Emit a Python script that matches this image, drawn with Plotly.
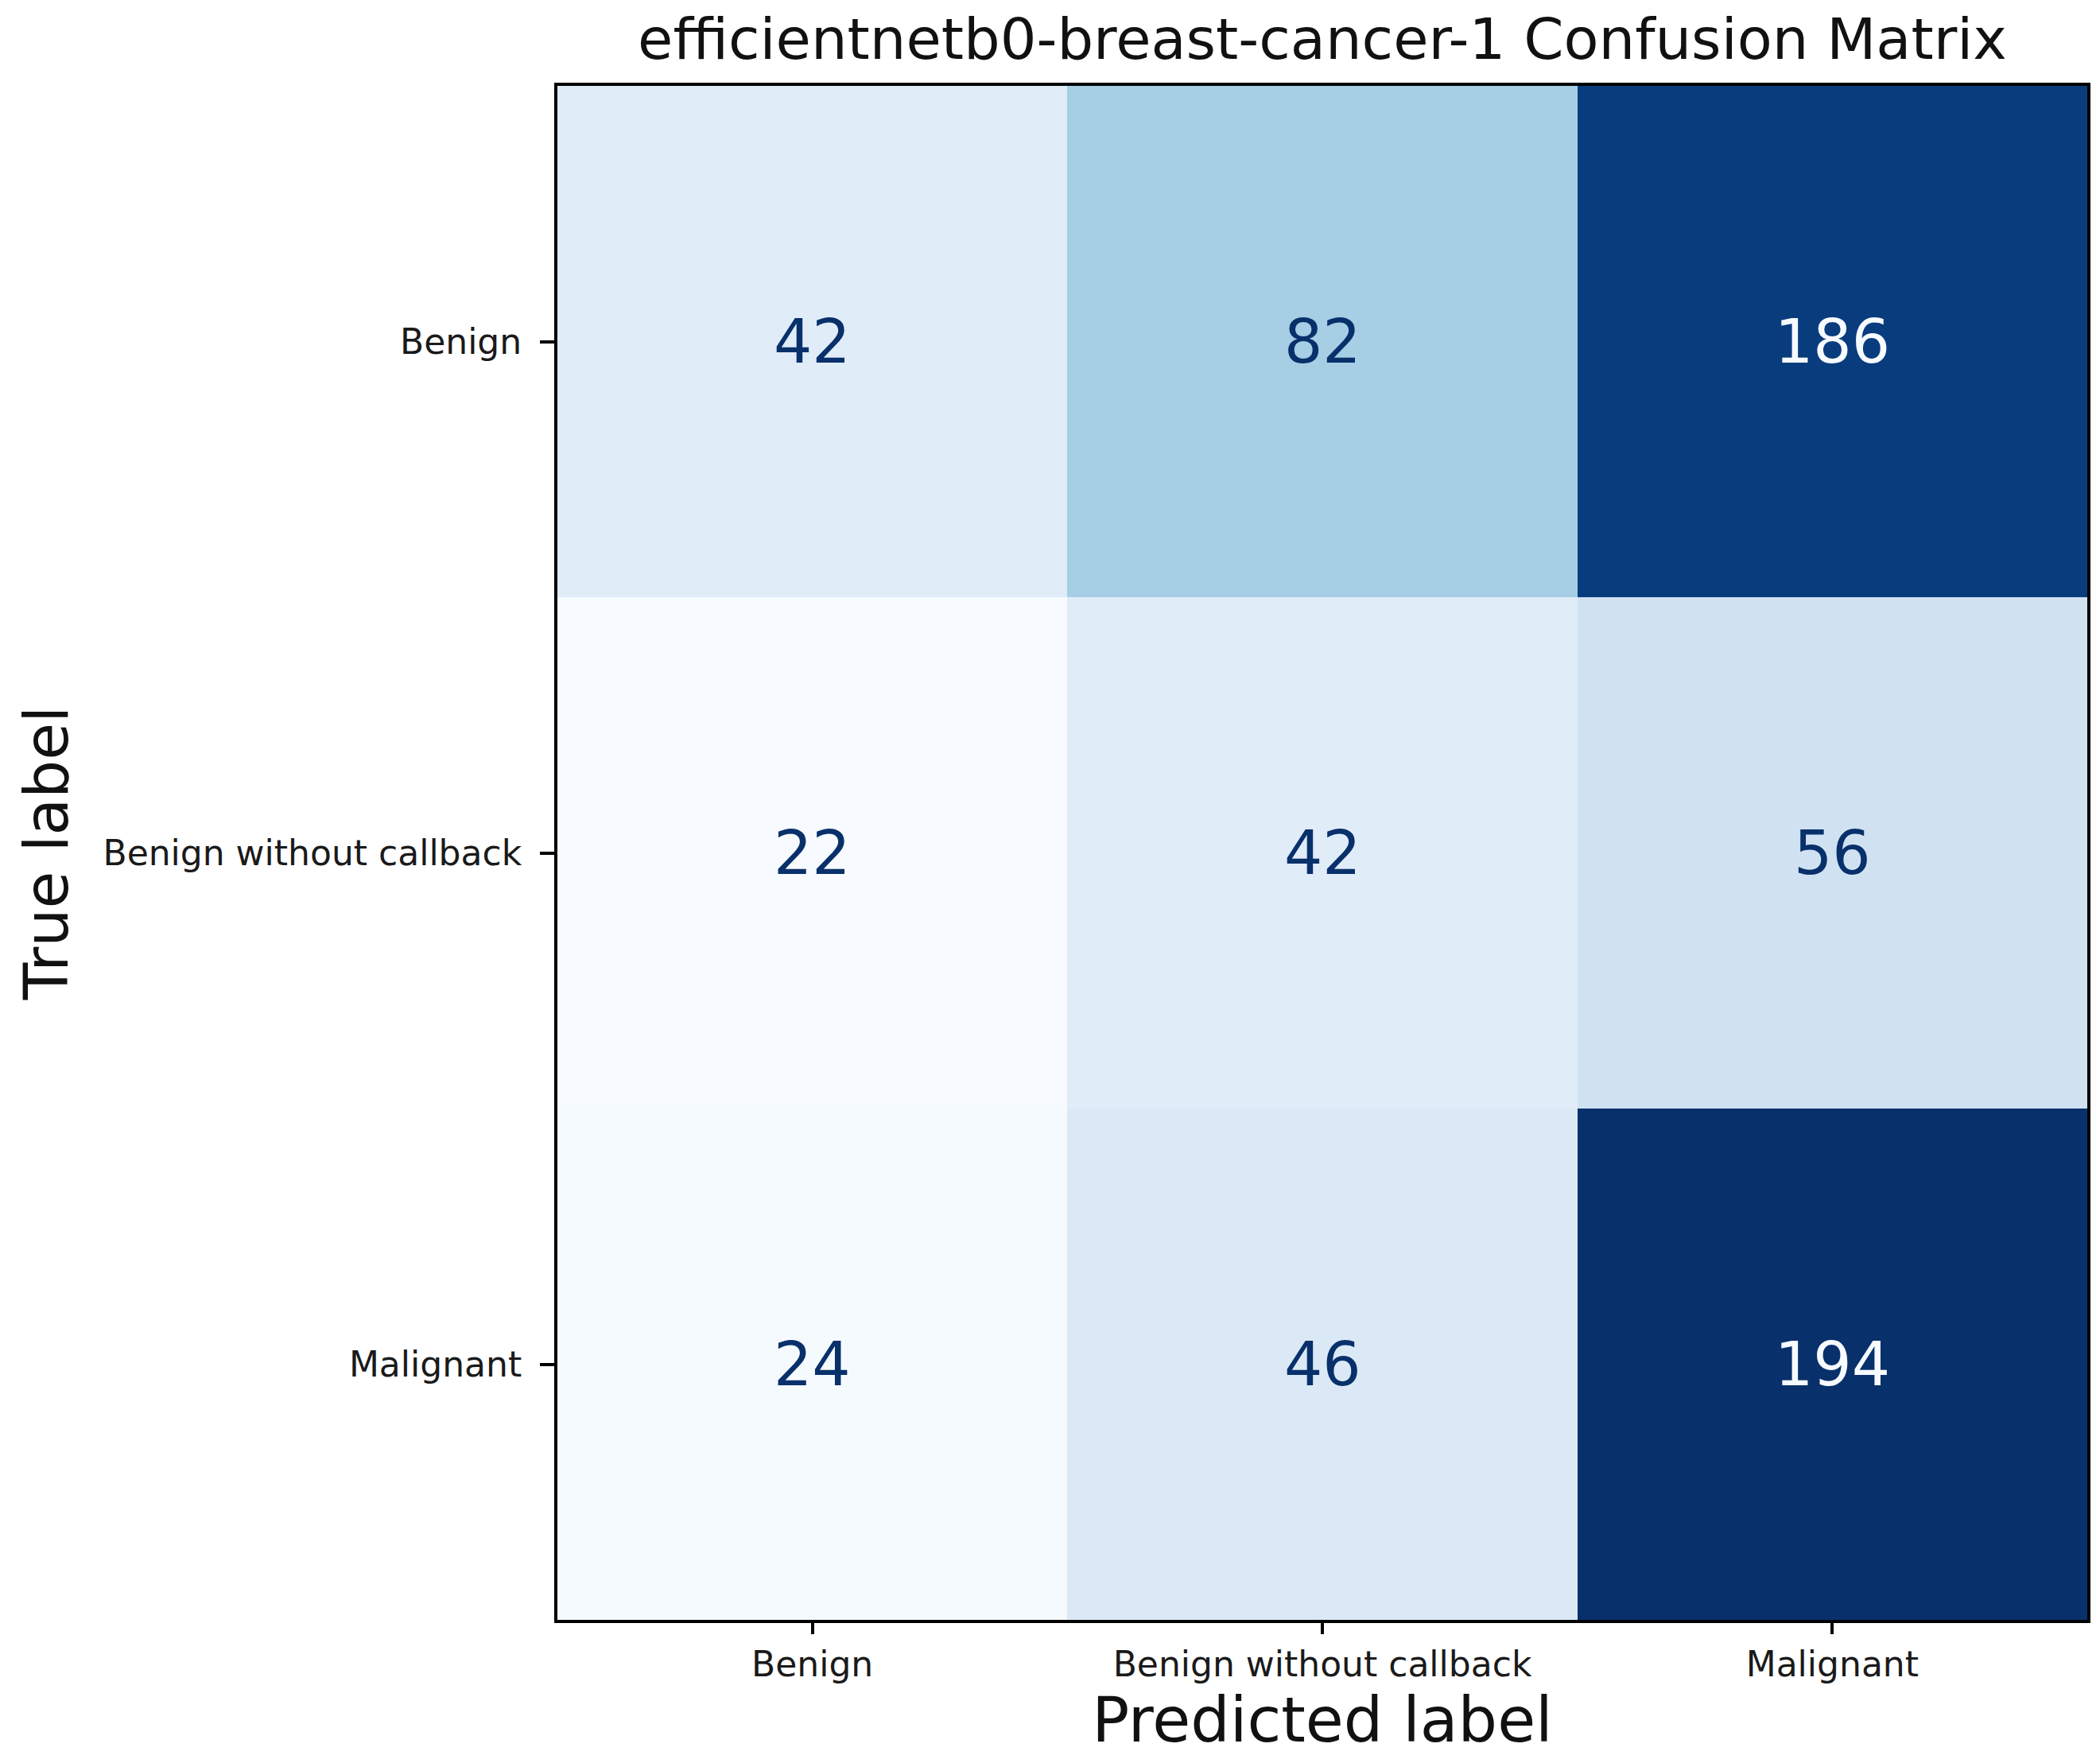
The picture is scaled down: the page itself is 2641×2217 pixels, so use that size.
import plotly.graph_objects as go

# Data
labels = ["Benign", "Benign without callback", "Malignant"]
cm_values = [
    [42, 82, 186],
    [22, 42, 56],
    [24, 46, 194],
]
title_text = "efficientnetb0-breast-cancer-1 Confusion Matrix"

blues = ['rgb(247,251,255)', 'rgb(222,235,247)', 'rgb(198,219,239)',
         'rgb(158,202,225)', 'rgb(107,174,214)', 'rgb(66,146,198)',
         'rgb(33,113,181)', 'rgb(8,81,156)', 'rgb(8,48,107)']
colorscale = [[i / (len(blues) - 1), c] for i, c in enumerate(blues)]

flat = [v for row in cm_values for v in row]
vmin, vmax = min(flat), max(flat)
thresh = (vmin + vmax) / 2.0

fig = go.Figure()
fig.add_trace(go.Heatmap(
    z=cm_values, x=labels, y=labels,
    colorscale=colorscale, zmin=vmin, zmax=vmax,
    showscale=False, hoverinfo="skip",
))

FONT = "DejaVu Sans"
for i, ylab in enumerate(labels):
    for j, xlab in enumerate(labels):
        v = cm_values[i][j]
        fig.add_annotation(
            x=xlab, y=ylab, text=str(v), showarrow=False,
            font=dict(family=FONT, size=76,
                      color='rgb(247,251,255)' if v > thresh else 'rgb(8,48,107)'),
        )

W, H = 2641, 2217
fig.update_layout(
    width=W, height=H,
    margin=dict(l=693, r=24, t=100, b=188, pad=0),
    paper_bgcolor="white", plot_bgcolor="white",
    font=dict(family=FONT, color="#1a1a1a"),
    title=dict(text=title_text, x=0.5, xanchor="center", xref="paper",
               y=1, yref="paper", yanchor="bottom", pad=dict(b=34),
               font=dict(family=FONT, size=72, color="#111")),
    xaxis=dict(
        type="category", range=[-0.5, 2.5],
        showline=True, mirror=True, linecolor="black", linewidth=4,
        ticks="outside", ticklen=14, tickwidth=4, tickcolor="black",
        showgrid=False, zeroline=False,
        tickfont=dict(family=FONT, size=44, color="#1a1a1a"),
        title=dict(text="Predicted label", standoff=14,
                   font=dict(family=FONT, size=78, color="#111")),
    ),
    yaxis=dict(
        type="category", range=[2.5, -0.5],
        showline=True, mirror=True, linecolor="black", linewidth=4,
        ticks="outside", ticklen=18, tickwidth=4, tickcolor="black",
        ticklabelstandoff=14,
        showgrid=False, zeroline=False,
        tickfont=dict(family=FONT, size=44, color="#1a1a1a"),
        title=dict(text="True label", standoff=20,
                   font=dict(family=FONT, size=76, color="#111")),
    ),
)

fig.write_html("out.html")
